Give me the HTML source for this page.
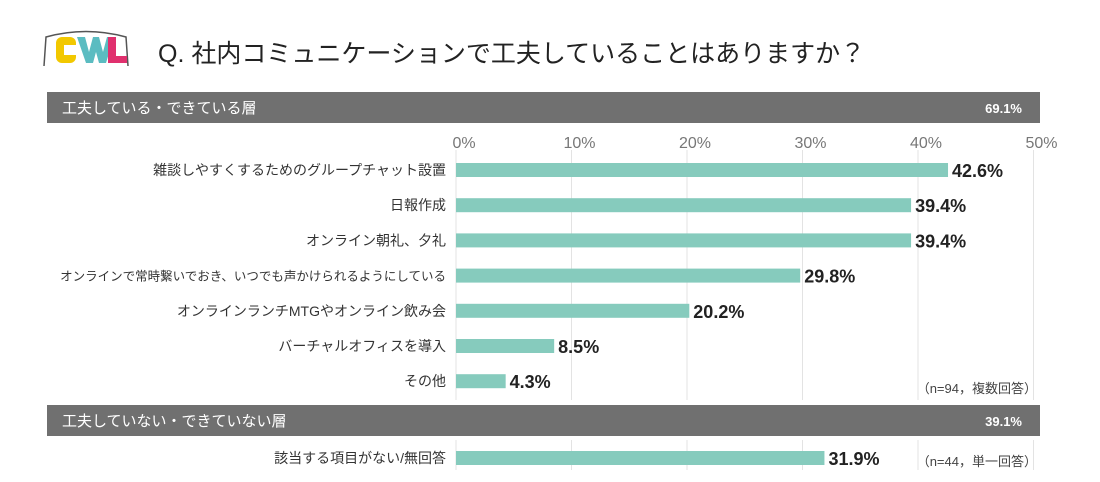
<!DOCTYPE html>
<html><head><meta charset="utf-8"><style>
body{margin:0;background:#fff;width:1100px;height:482px;overflow:hidden}
svg{display:block;font-family:"Liberation Sans","Noto Sans CJK JP",sans-serif}
</style></head><body>
<svg width="1100" height="482" xmlns="http://www.w3.org/2000/svg">
<g>
<path d="M44,66 L46,37 Q86,26 126,37 L128,66" fill="none" stroke="#555" stroke-width="1.5"/>
<rect x="56" y="37" width="20" height="26" rx="6" fill="#f2c800"/>
<rect x="64" y="45" width="12" height="10" fill="#fff"/>
<path d="M77,37 L85,37 L89,52 L93,37 L99,37 L103,52 L107,37 L114,37 L106,63 L99,63 L96,52 L93,63 L86,63 Z" fill="#5bbcc1"/>
<rect x="108" y="37" width="8" height="26" fill="#e0306e"/>
<rect x="108" y="56" width="19" height="7" fill="#e0306e"/>
</g>
<text x="158" y="62" font-size="25" fill="#222">Q. 社内コミュニケーションで工夫していることはありますか？</text>
<g id="grid"></g>
<g id="content"></g>
</svg>
<script>
const categories=["雑談しやすくするためのグループチャット設置","日報作成","オンライン朝礼、夕礼","オンラインで常時繋いでおき、いつでも声かけられるようにしている","オンラインランチMTGやオンライン飲み会","バーチャルオフィスを導入","その他"];
const values=[42.6,39.4,39.4,29.8,20.2,8.5,4.3];
const categories2=["該当する項目がない/無回答"];
const values2=[31.9];
const ticks=[0,10,20,30,40,50];
const headers=["工夫している・できている層","工夫していない・できていない層"];
const headerValues=["69.1%","39.1%"];
const notes=["（n=94，複数回答）","（n=44，単一回答）"];
const NS="http://www.w3.org/2000/svg";
const x0=456,k=11.55;
const xs=v=>x0+v*k;
function mk(tag,attrs,parent,text){const e=document.createElementNS(NS,tag);for(const a in attrs)e.setAttribute(a,attrs[a]);if(text!==undefined)e.textContent=text;parent.appendChild(e);return e;}
const grid=document.getElementById('grid'),c=document.getElementById('content');
ticks.forEach(t=>{
 const l=mk('line',{x1:xs(t),x2:xs(t),y1:150,y2:400,stroke:'#e3e3e3','stroke-width':1},grid);
 
 
 const l2=mk('line',{x1:xs(t),x2:xs(t),y1:440,y2:470,stroke:'#e3e3e3','stroke-width':1},grid);
 
 
 const tx=mk('text',{x:xs(t)+8,y:148,'font-size':16,fill:'#777','text-anchor':'middle'},grid,t+'%');
 
 
});
[[92,0],[405,1]].forEach(([y,i])=>{
 const r=mk('rect',{x:47,y:y,width:993,height:31,fill:'#707070'},c);
 
 
 const t=mk('text',{x:62,y:y+21,'font-size':15,fill:'#fff'},c,headers[i]);
 
 
 const v=mk('text',{x:1022,y:y+21,'font-size':13,'font-weight':'bold',fill:'#fff','text-anchor':'end'},c,headerValues[i]);
 
 
});
function row(cat,val,cy){
 const fs=cat.length>25?12.5:14;
 const t=mk('text',{x:446,y:cy+5,'font-size':fs,fill:'#333','text-anchor':'end'},c,cat);
 
 
 const b=mk('rect',{x:x0,y:cy-7,width:xs(val)-x0,height:14,fill:'#86cbbd'},c);
 
 
 const v=mk('text',{x:xs(val)+4,y:cy+7,'font-size':18,'font-weight':'bold',fill:'#222'},c,val.toFixed(1)+'%');
 
 
}
categories.forEach((cat,i)=>row(cat,values[i],170+i*35.2));
categories2.forEach((cat,i)=>row(cat,values2[i],458+i*35));
const n1=mk('text',{x:1037,y:393,'font-size':13,fill:'#444','text-anchor':'end'},c,notes[0]);


const n2=mk('text',{x:1037,y:466,'font-size':13,fill:'#444','text-anchor':'end'},c,notes[1]);


</script>
</body></html>
